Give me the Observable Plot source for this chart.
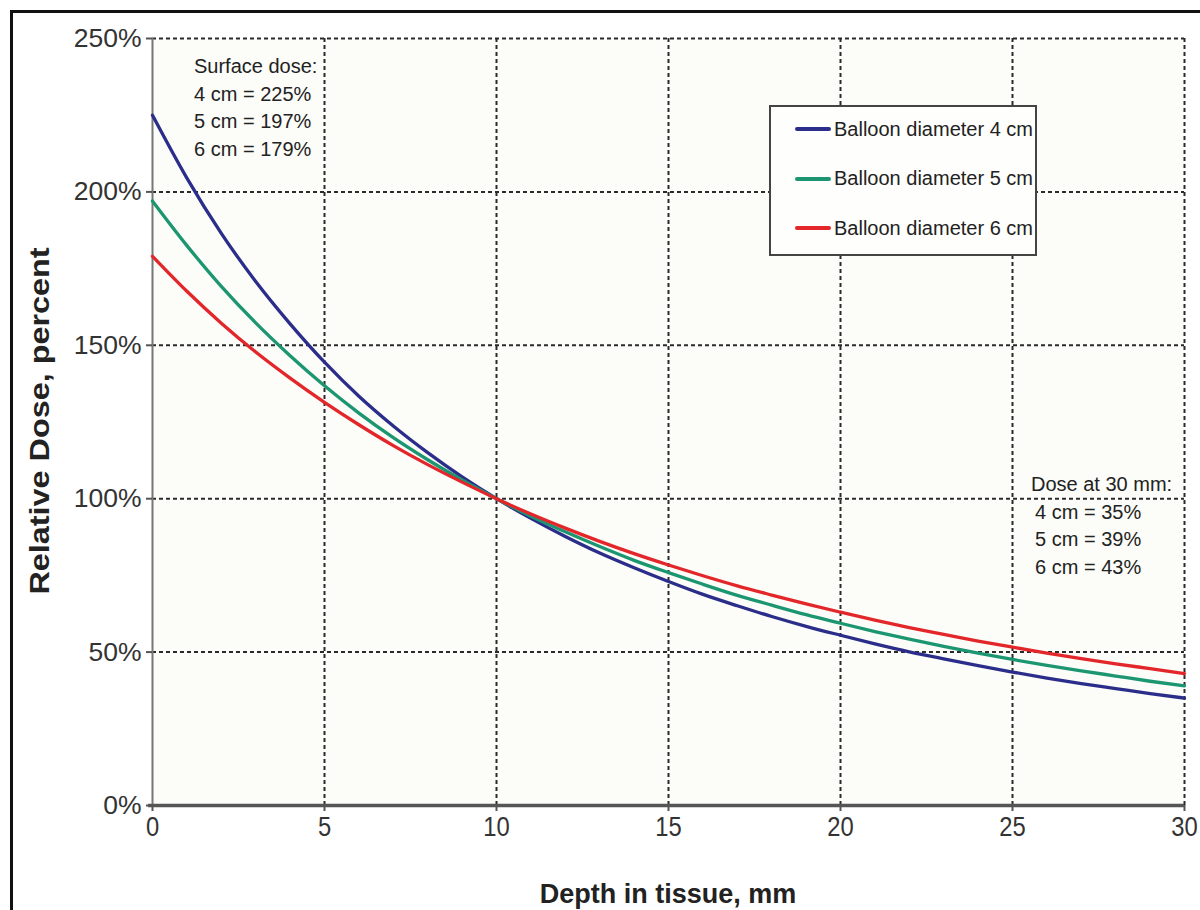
<!DOCTYPE html>
<html>
<head>
<meta charset="utf-8">
<script src="https://cdn.jsdelivr.net/npm/d3@7"></script>
<script src="https://cdn.jsdelivr.net/npm/@observablehq/plot@0.6"></script>
<style>
  html, body { margin: 0; padding: 0; background: #ffffff; }
  #wrap { position: relative; width: 1200px; height: 910px; overflow: hidden; font-family: "Liberation Sans", Arial, sans-serif; }
  #frame { position: absolute; left: 10px; top: 10px; width: 1300px; height: 1000px; border-left: 3px solid #111; border-top: 3px solid #111; pointer-events: none; }
  .legend { position: absolute; left: 769px; top: 105px; width: 264px; height: 147px; border: 2px solid #444; background: #fefefc; }
  .legend .item { position: absolute; left: 24px; height: 24px; display: flex; align-items: center; font-size: 20px; color: #222; }
  .legend .swatch { width: 36px; height: 4px; margin-right: 3px; border-radius: 2px; }
  .note { position: absolute; font-size: 20px; color: #222; line-height: 27.5px; white-space: nowrap; }
</style>
</head>
<body>
<div id="wrap">
  <div id="chart"></div>
  <div id="frame"></div>
</div>
<script>
// Depth in tissue (mm)
const depth = [0,1,2,3,4,5,6,7,8,9,10,11,12,13,14,15,16,17,18,19,20,21,22,23,24,25,26,27,28,29,30];
// Relative dose (%)
const dose4cm = [225,204.5,186.5,170.8,157.0,144.5,133.4,123.7,115.0,107.1,100,93.6,87.7,82.3,77.5,73.0,68.8,65.1,61.6,58.4,55.5,52.7,50.1,47.8,45.6,43.5,41.5,39.7,38.1,36.5,35.0];
const dose5cm = [197,182.5,169.2,157.3,146.6,136.8,127.9,119.9,112.7,106.1,100,94.3,89.2,84.4,79.9,75.9,72.1,68.5,65.3,62.2,59.4,56.7,54.2,51.9,49.7,47.6,45.7,43.9,42.2,40.5,39.0];
const dose6cm = [179,167.6,157.2,147.8,139.3,131.4,124.1,117.3,111.1,105.4,100,95.0,90.4,86.1,82.1,78.4,74.9,71.6,68.6,65.7,63.0,60.4,58.0,55.8,53.6,51.6,49.7,47.9,46.2,44.6,43.0];
const seriesNames = ["Balloon diameter 4 cm","Balloon diameter 5 cm","Balloon diameter 6 cm"];
const seriesColors = ["#2b2d8a","#1b9671","#e2262a"];
const yTicks = [0,50,100,150,200,250];
const xTicks = [0,5,10,15,20,25,30];
const surfaceNote = ["Surface dose:","4 cm = 225%","5 cm = 197%","6 cm = 179%"];
const endNote = ["Dose at 30 mm:","4 cm = 35%","5 cm = 39%","6 cm = 43%"];

const allSeries = [dose4cm, dose5cm, dose6cm];
const table = allSeries.flatMap((vals, i) => depth.map((d, j) => ({depth: d, dose: vals[j], series: seriesNames[i]})));

const plot = Plot.plot({
  width: 1200,
  height: 910,
  marginLeft: 152,
  marginRight: 16,
  marginTop: 38,
  marginBottom: 105,
  style: {background: "transparent", fontFamily: "'Liberation Sans', Arial, sans-serif", color: "#333"},
  x: {domain: [0, 30], ticks: xTicks},
  y: {domain: [0, 250], ticks: yTicks},
  color: {domain: seriesNames, range: seriesColors},
  marks: [
    Plot.frame({fill: "#fcfcf8", stroke: null}),
    Plot.gridX(xTicks.filter(d => d > 0), {stroke: "#2a2a2a", strokeOpacity: 1, strokeWidth: 2, strokeDasharray: "4,3"}),
    Plot.gridY(yTicks.filter(d => d > 0), {stroke: "#2a2a2a", strokeOpacity: 1, strokeWidth: 2, strokeDasharray: "4,3"}),
    Plot.ruleX([0], {stroke: "#777", strokeWidth: 2}),
    Plot.axisY(yTicks, {tickFormat: d => d + "%", fontSize: 26.5, tickSize: 6, tickPadding: 5, stroke: "#555", strokeWidth: 2, fill: "#333", label: null}),
    Plot.axisX(xTicks, {fontSize: 28, tickSize: 6, tickPadding: 5, stroke: "#555", strokeWidth: 2, fill: "#333", label: null}),
    Plot.ruleY([0], {stroke: "#555", strokeWidth: 3.5, insetLeft: -4}),
    Plot.line(table, {x: "depth", y: "dose", stroke: "series", strokeWidth: 3.3, curve: "monotone-x"})
  ]
});
document.getElementById("chart").appendChild(plot);

// condense x tick labels slightly, like the reference typeface
d3.select(plot).selectAll("[aria-label='x-axis tick label'] text").each(function() {
  const t = d3.select(this);
  const tr = t.attr("transform") || "";
  t.attr("transform", tr + " scale(0.85,1)");
});

const svg = d3.select(plot);
// axis titles
svg.append("text")
  .attr("x", 668).attr("y", 903)
  .attr("text-anchor", "middle")
  .attr("font-size", 27).attr("font-weight", "bold").attr("fill", "#222")
  .attr("font-family", "'Liberation Sans', Arial, sans-serif")
  .text("Depth in tissue, mm");
svg.append("text")
  .attr("transform", "translate(49,421) rotate(-90)")
  .attr("text-anchor", "middle")
  .attr("font-size", 28).attr("font-weight", "bold").attr("fill", "#222")
  .attr("font-family", "'Liberation Sans', Arial, sans-serif")
  .attr("textLength", 347).attr("lengthAdjust", "spacingAndGlyphs")
  .text("Relative Dose, percent");

const wrap = document.getElementById("wrap");
// legend
const legend = document.createElement("div");
legend.className = "legend";
seriesNames.forEach((name, i) => {
  const item = document.createElement("div");
  item.className = "item";
  item.style.top = (10 + i * 49.5) + "px";
  const sw = document.createElement("div");
  sw.className = "swatch";
  sw.style.background = seriesColors[i];
  item.appendChild(sw);
  const t = document.createElement("span");
  t.textContent = name;
  item.appendChild(t);
  legend.appendChild(item);
});
wrap.appendChild(legend);

// annotations
function addNote(lines, left, top, indent) {
  const n = document.createElement("div");
  n.className = "note";
  n.style.left = left + "px";
  n.style.top = top + "px";
  lines.forEach((l, i) => {
    const d = document.createElement("div");
    d.textContent = l;
    if (i > 0 && indent) d.style.paddingLeft = indent + "px";
    n.appendChild(d);
  });
  wrap.appendChild(n);
}
addNote(surfaceNote, 194, 53, 0);
addNote(endNote, 1031, 471, 4);
</script>
</body>
</html>
